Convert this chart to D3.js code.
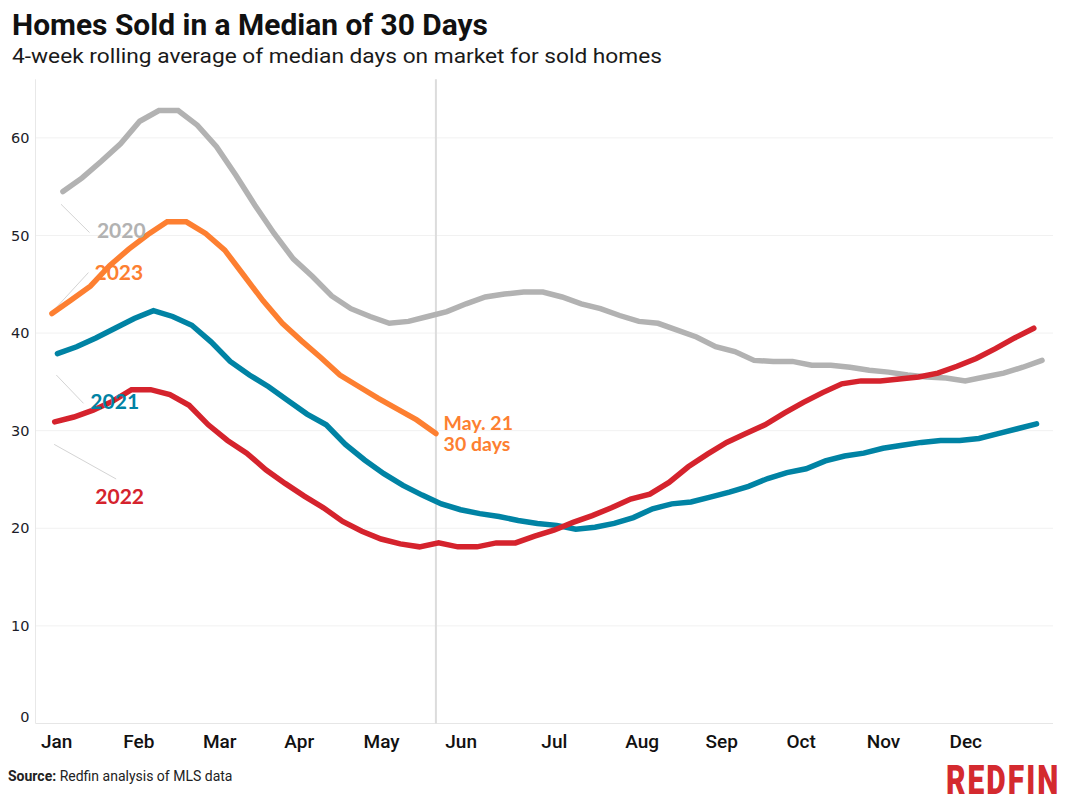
<!DOCTYPE html>
<html>
<head>
<meta charset="utf-8">
<script src="https://cdn.jsdelivr.net/npm/d3@7/dist/d3.min.js"></script>
<style>
  html, body { margin: 0; padding: 0; background: #fff; }
  svg { display: block; }
</style>
</head>
<body>
<svg id="chart" width="1076" height="804"></svg>
<script>
// ---------- DATA ----------
const monthLabels = ["Jan","Feb","Mar","Apr","May","Jun","Jul","Aug","Sep","Oct","Nov","Dec"];
const monthLabelDays = [1.5,31.5,61,90,120,149,183,215,244,273,303,333];
const yTicks = [0,10,20,30,40,50,60];

// weekly values, first week-ending day-of-year for each year
const start2020 = 4, start2021 = 2, start2022 = 1, start2023 = 0;
const values2020 = [54.5,55.9,57.6,59.4,61.7,62.8,62.8,61.3,59.1,56.2,53.1,50.2,47.6,45.8,43.8,42.5,41.7,41.0,41.2,41.7,42.2,43.0,43.7,44.0,44.2,44.2,43.7,43.0,42.5,41.8,41.2,41.0,40.3,39.6,38.6,38.1,37.2,37.1,37.1,36.7,36.7,36.5,36.2,36.0,35.7,35.5,35.4,35.1,35.5,35.9,36.5,37.2];
const values2021 = [37.9,38.6,39.5,40.5,41.5,42.3,41.7,40.8,39.1,37.1,35.7,34.5,33.1,31.7,30.6,28.6,27.0,25.6,24.4,23.4,22.5,21.9,21.5,21.2,20.8,20.5,20.3,19.9,20.1,20.5,21.1,22.0,22.5,22.7,23.2,23.7,24.3,25.1,25.7,26.1,26.9,27.4,27.7,28.2,28.5,28.8,29.0,29.0,29.2,29.7,30.2,30.7];
const values2022 = [30.9,31.4,32.1,33.0,34.2,34.2,33.7,32.6,30.6,29.0,27.7,26.0,24.6,23.3,22.1,20.7,19.7,18.9,18.4,18.1,18.5,18.1,18.1,18.5,18.5,19.2,19.8,20.6,21.3,22.1,23.0,23.5,24.7,26.3,27.6,28.8,29.7,30.6,31.8,32.9,33.9,34.8,35.1,35.1,35.3,35.5,35.9,36.6,37.4,38.4,39.5,40.5];
const values2023 = [42.0,43.4,44.8,46.9,48.6,50.1,51.4,51.4,50.2,48.5,45.9,43.3,41.0,39.2,37.5,35.7,34.5,33.3,32.2,31.1,29.7];

const seriesNames = ["2020","2021","2022","2023"];
const seriesColors = ["#b2b2b2","#0083a4","#d5232d","#fd7f31"];
const seriesStarts = [start2020,start2021,start2022,start2023];
const seriesValues = [values2020,values2021,values2022,values2023];

const annotationDay = 140; // May 21
const annotationText = ["May. 21","30 days"];

// ---------- SCALES ----------
const svg = d3.select("#chart");
const x = d3.scaleLinear().domain([-6, 365]).range([35.5, 1053]);
const y = d3.scaleLinear().domain([0, 66]).range([723.5, 79.3]);

// gridlines
const grid = svg.append("g");
grid.selectAll("line.h").data(yTicks).join("line")
  .attr("x1", x(-6)).attr("x2", x(365))
  .attr("y1", d => y(d)).attr("y2", d => y(d))
  .attr("stroke", d => d === 0 ? "#e6e6e6" : "#f1f1f1").attr("stroke-width", 1);
// left axis line
svg.append("line").attr("x1", x(-6)).attr("x2", x(-6))
  .attr("y1", y(66)).attr("y2", y(0)).attr("stroke", "#e8e8e8").attr("stroke-width", 1);

// y axis labels
const yAxis = d3.axisLeft(y).tickValues(yTicks).tickSize(0).tickPadding(6);
const gy = svg.append("g").attr("transform", `translate(${x(-6)},0)`).call(yAxis);
gy.select(".domain").remove();
gy.selectAll("text")
  .attr("font-family", "DejaVu Sans, sans-serif").attr("font-size", 14.5)
  .attr("fill", "#1c1c28")
  .attr("dy", d => d === 0 ? "-0.15em" : "0.32em");

// x axis labels
const xAxis = d3.axisBottom(x).tickValues(monthLabelDays)
  .tickFormat((d, i) => monthLabels[i]).tickSize(0).tickPadding(0);
const gx = svg.append("g").attr("transform", `translate(0,${y(0) + 6})`).call(xAxis);
gx.select(".domain").remove();
gx.selectAll("text")
  .attr("font-family", "Roboto, sans-serif").attr("font-weight", 500)
  .attr("font-size", 19).attr("fill", "#111").attr("dy", "0.95em");

// annotation vertical line
svg.append("line").attr("x1", x(annotationDay)).attr("x2", x(annotationDay))
  .attr("y1", y(66)).attr("y2", y(0)).attr("stroke", "#dcdcdc").attr("stroke-width", 2);

// connector lines for year labels
const connectors = [
  {c: 0, d: [[3.3,53.2],[13.7,50.3]]},
  {c: 3, d: [[1.2,42.5],[13.3,46.2]]},
  {c: 1, d: [[1.6,35.7],[11.5,32.8]]},
  {c: 2, d: [[0.8,28.6],[23.4,25.05]]}
];
svg.append("g").selectAll("line").data(connectors).join("line")
  .attr("x1", d => x(d.d[0][0])).attr("y1", d => y(d.d[0][1]))
  .attr("x2", d => x(d.d[1][0])).attr("y2", d => y(d.d[1][1]))
  .attr("stroke", "#d4d4d4").attr("stroke-width", 1);

// lines
const line = d3.line().x(d => x(d.day)).y(d => y(d.v));
const seriesData = seriesNames.map((n, k) => ({
  name: n, color: seriesColors[k],
  pts: seriesValues[k].map((v, i) => ({day: seriesStarts[k] + 7 * i, v}))
}));
svg.append("g").selectAll("path").data(seriesData).join("path")
  .attr("d", d => line(d.pts))
  .attr("fill", "none").attr("stroke", d => d.color)
  .attr("stroke-width", 5.5).attr("stroke-linecap", "round").attr("stroke-linejoin", "miter");

// year labels
const yearLabels = [
  {c: 0, day: 16.4, v: 49.7},
  {c: 3, day: 15.5, v: 45.4},
  {c: 1, day: 14.0, v: 32.2},
  {c: 2, day: 15.8, v: 22.5}
];
svg.append("g").selectAll("text").data(yearLabels).join("text")
  .attr("x", d => x(d.day)).attr("y", d => y(d.v))
  .attr("font-family", "Lato, sans-serif").attr("font-weight", 700).attr("font-size", 21)
  .attr("fill", d => seriesColors[d.c]).text(d => seriesNames[d.c]);

// annotation text
svg.append("g").selectAll("text").data(annotationText).join("text")
  .attr("x", x(annotationDay + 2.8)).attr("y", (d, i) => y(30.1) + i * 21.5)
  .attr("font-family", "Lato, sans-serif").attr("font-weight", 700).attr("font-size", 19.5)
  .attr("fill", "#fd7f31").text(d => d);

// title & subtitle
svg.append("text").attr("x", 12).attr("y", 35)
  .attr("font-family", "Roboto, sans-serif").attr("font-weight", 700).attr("font-size", 29)
  .attr("fill", "#111").attr("textLength", 476).attr("lengthAdjust", "spacingAndGlyphs")
  .text("Homes Sold in a Median of 30 Days");
svg.append("text").attr("x", 12).attr("y", 63)
  .attr("font-family", "Roboto, sans-serif").attr("font-weight", 400).attr("font-size", 21)
  .attr("fill", "#1a1a1a").attr("textLength", 650).attr("lengthAdjust", "spacingAndGlyphs")
  .text("4-week rolling average of median days on market for sold homes");

// source
const src = svg.append("text").attr("x", 8).attr("y", 781)
  .attr("font-family", "Roboto, sans-serif").attr("font-size", 14).attr("fill", "#222");
src.append("tspan").attr("font-weight", 700).text("Source:");
src.append("tspan").attr("font-weight", 400).text(" Redfin analysis of MLS data");

// logo (condensed via vertical stretch)
svg.append("text").attr("transform", "translate(946,794) scale(1,1.36)")
  .attr("x", 0).attr("y", 0)
  .attr("font-family", "Roboto, sans-serif").attr("font-weight", 900).attr("font-size", 30)
  .attr("fill", "#d42a2f").attr("letter-spacing", 2)
  .text("REDFIN");
</script>
</body>
</html>
